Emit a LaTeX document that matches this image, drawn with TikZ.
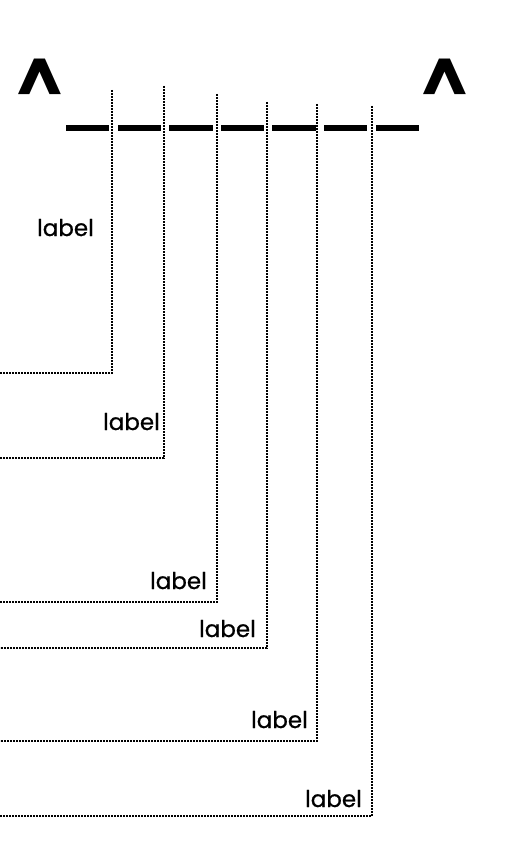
\documentclass[tikz,border=0pt]{standalone}
\usepackage{fontspec}
\setmainfont{Poppins}
\newfontfamily\tagfont{Poppins}[FakeBold=0.8]
\newcommand{\lbltext}{label}
\begin{document}
\begin{tikzpicture}[x=1pt,y=-1pt]
\tikzset{tag/.style={anchor=base east,inner sep=0pt,font=\tagfont\fontsize{23}{23}\selectfont},
  eye/.style={inner sep=0pt,font=\fontsize{66}{66}\selectfont\bfseries},
  dots/.style={line width=1.3pt,dash pattern=on 1.6pt off 1.4pt},
  bar/.style={line width=6pt}}
\useasboundingbox (0,0) rectangle (507,861);
%\draw[help lines,step=50] (0,0) grid (507,861);
\path (40,82) node(eyel) [eye] {\textasciicircum}
(445,82) node(eyer) [eye] {\textasciicircum}
(94,236) node(l1) [tag] {\lbltext}
(160,430) node(l2) [tag] {\lbltext}
(207,589) node(l3) [tag] {\lbltext}
(256,637) node(l4) [tag] {\lbltext}
(308,728) node(l5) [tag] {\lbltext}
(362,807) node(l6) [tag] {\lbltext};
\path (112,90) coordinate(t1) (0,373) coordinate(e1)
(164,86) coordinate(t2) (0,458) coordinate(e2)
(217,94) coordinate(t3) (0,602) coordinate(e3)
(267,102) coordinate(t4) (0,648) coordinate(e4)
(317,104) coordinate(t5) (0,741) coordinate(e5)
(372,106) coordinate(t6) (0,816) coordinate(e6);
% mouth
\foreach \a/\b in {66/109,118/161,169/213,221/264,272/316,324/367,376/419}
  \draw[bar] (\a,128) -- (\b,128);
\foreach \i in {1,...,6}
  \draw[dots] (t\i) |- (e\i);
\end{tikzpicture}
\end{document}
